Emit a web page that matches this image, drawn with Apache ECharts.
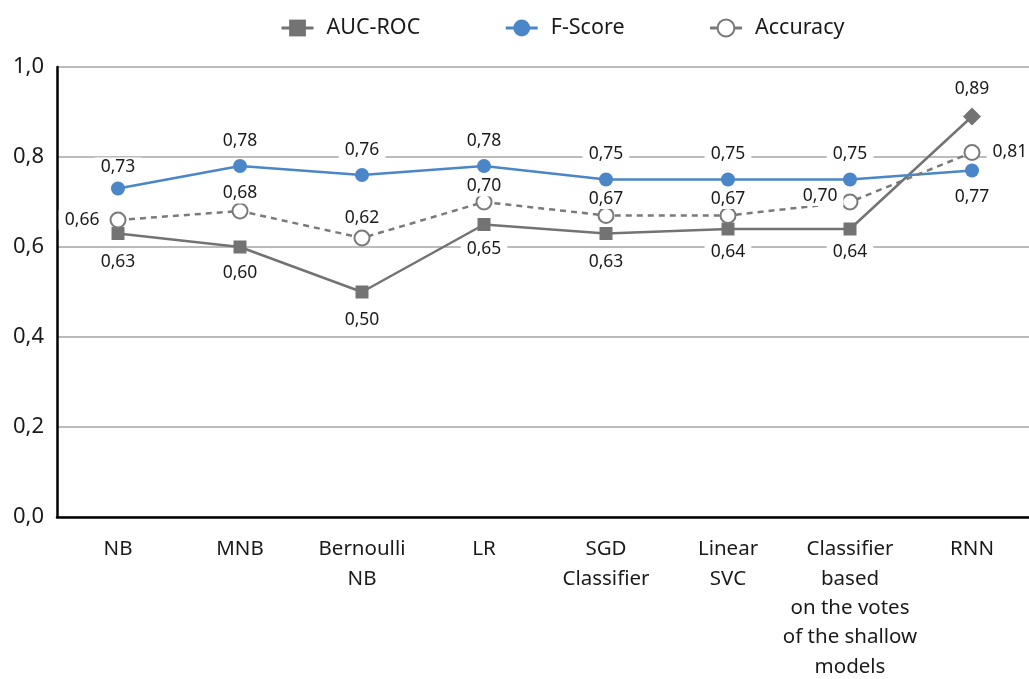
<!DOCTYPE html>
<html><head><meta charset="utf-8">
<script src="https://cdn.jsdelivr.net/npm/echarts@6/dist/echarts.min.js"></script>
<style>html,body{margin:0;padding:0;background:#fff}#c{width:1029px;height:679px}</style>
</head><body><div id="c"></div>
<script>
const categories = ['NB','MNB','Bernoulli\nNB','LR','SGD\nClassifier','Linear\nSVC','Classifier\nbased\non the votes\nof the shallow\nmodels','RNN'];
const aucRoc = [0.63,0.60,0.50,0.65,0.63,0.64,0.64,0.89];
const fScore = [0.73,0.78,0.76,0.78,0.75,0.75,0.75,0.77];
const accuracy = [0.66,0.68,0.62,0.70,0.67,0.67,0.70,0.81];
const yTicks = [0,0.2,0.4,0.6,0.8,1.0];

const FONT = 'Noto Sans';
const fmt2 = v => v.toFixed(2).replace('.', ',');
const lblBase = {show:true, fontFamily:FONT, fontSize:17.5, color:'#1a1a1a', backgroundColor:'#fff', padding:[1,6], formatter:p=>fmt2(p.value)};

const aucPos = ['bottom','bottom','bottom','bottom','bottom','bottom','bottom','top'];
const fPos = ['top','top','top','top','top','top','top','bottom'];
const accPos = ['left','top','top','top','top','top','left','right'];

const aucColor = '#737373', fColor = '#4a86c8', accColor = '#7a7a7a';

function mk(vals, pos, dist, extra){
  return vals.map((v,i)=>{
    const d = {value:v, label:Object.assign({}, lblBase, {position:pos[i], distance:dist[i]})};
    if(extra) extra(d,i);
    return d;
  });
}

const chart = echarts.init(document.getElementById('c'));
chart.setOption({
  animation:false,
  legend:{top:12, left:275, itemGap:84, itemWidth:32, itemHeight:21,
    textStyle:{fontFamily:FONT, fontSize:21.5, color:'#1a1a1a', padding:[0,0,0,8]},
    data:[{name:'AUC-ROC', lineStyle:{width:3}},{name:'F-Score', lineStyle:{width:3}},{name:'Accuracy', lineStyle:{type:'solid', width:3}}]},
  grid:{left:57, right:-4, top:67, bottom:162, containLabel:false, outerBoundsMode:'none'},
  xAxis:{type:'category', data:categories, boundaryGap:true,
    axisLine:{lineStyle:{color:'#000', width:2.5}},
    axisTick:{show:false},
    axisLabel:{fontFamily:FONT, fontSize:20.5, color:'#1a1a1a', lineHeight:29.3, margin:18, interval:0}},
  yAxis:{type:'value', min:0, max:1, interval:0.2,
    axisLine:{show:true, lineStyle:{color:'#000', width:2.5}},
    axisTick:{show:false},
    splitLine:{lineStyle:{color:'#a6a6a6', width:1.5}},
    axisLabel:{fontFamily:FONT, fontSize:22, color:'#1a1a1a', margin:13,
      formatter:v=>v.toFixed(1).replace('.', ',')}},
  series:[
    {name:'AUC-ROC', type:'line', symbol:'rect', symbolSize:13,
     itemStyle:{color:aucColor}, lineStyle:{color:aucColor, width:2.5},
     data:mk(aucRoc, aucPos, [12,10,12,8,12,7,7,8], (d,i)=>{ if(i===7){ d.symbol='diamond'; d.symbolSize=18; } })},
    {name:'F-Score', type:'line', symbol:'circle', symbolSize:14,
     itemStyle:{color:fColor}, lineStyle:{color:fColor, width:2.5},
     data:mk(fScore, fPos, [4,8,8,8,8,8,8,10])},
    {name:'Accuracy', type:'line', symbol:'circle', symbolSize:15,
     itemStyle:{color:'#fff', borderColor:accColor, borderWidth:2},
     lineStyle:{color:accColor, width:2.5, type:[6,5]},
     data:mk(accuracy, accPos, [4,-1,1,-3,-2,-2,2,6], (d,i)=>{ if(i===6){ d.label.offset=[4,-6]; } })}
  ]
});
</script></body></html>
